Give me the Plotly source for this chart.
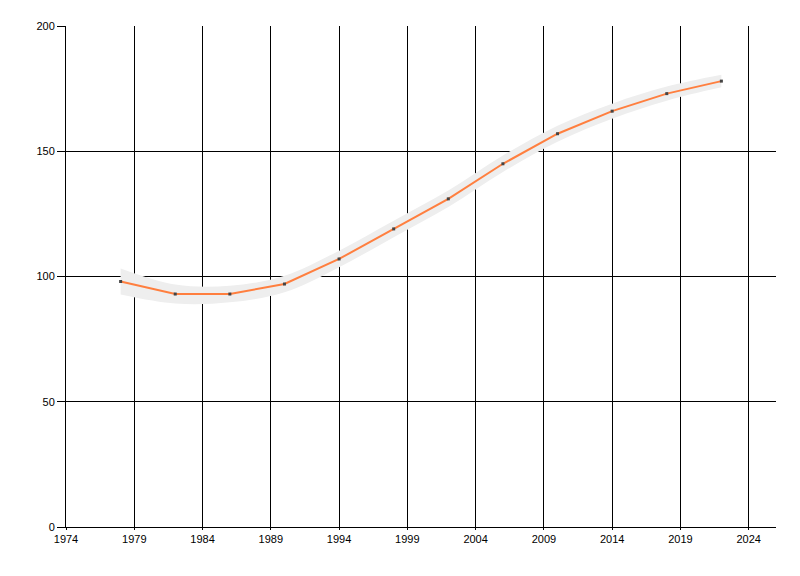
import plotly.graph_objects as go

years = [1978, 1982, 1986, 1990, 1994, 1998, 2002, 2006, 2010, 2014, 2018, 2022]
values = [98, 93, 93, 97, 107, 119, 131, 145, 157, 166, 173, 178]
band_half = [5.2, 3.8, 3.3, 3.3, 3.3, 3.3, 3.3, 3.3, 3.2, 3.0, 2.8, 2.5]

x_ticks = [1974, 1979, 1984, 1989, 1994, 1999, 2004, 2009, 2014, 2019, 2024]
y_ticks = [0, 50, 100, 150, 200]

upper = [v + h for v, h in zip(values, band_half)]
lower = [v - h for v, h in zip(values, band_half)]

fig = go.Figure()
fig.add_trace(go.Scatter(x=years, y=lower, mode="lines", line=dict(width=0, shape="spline"),
                         hoverinfo="skip", showlegend=False))
fig.add_trace(go.Scatter(x=years, y=upper, mode="lines", line=dict(width=0, shape="spline"),
                         fill="tonexty", fillcolor="#EEEEEE", hoverinfo="skip", showlegend=False))
fig.add_trace(go.Scatter(x=years, y=values, mode="lines+markers",
                         line=dict(color="#FF7F3F", width=2),
                         marker=dict(color="#444444", size=3, symbol="square"),
                         showlegend=False))

font = dict(family="Liberation Sans, Arial, sans-serif", size=11, color="#000000")
fig.update_layout(
    width=792, height=568,
    margin=dict(l=58, r=24, t=18, b=49, autoexpand=False),
    paper_bgcolor="white", plot_bgcolor="white",
    font=font,
    showlegend=False,
)
fig.update_xaxes(range=[1974, 2026], tickvals=x_ticks, ticktext=[str(t) for t in x_ticks],
                 showgrid=True, gridcolor="#000000", gridwidth=1,
                 showline=True, linecolor="#000000", linewidth=1,
                 ticks="outside", ticklen=2, tickcolor="#000000", zeroline=False, layer="below traces")
fig.update_yaxes(range=[0, 200], tickvals=y_ticks, ticktext=[str(t) for t in y_ticks],
                 showgrid=True, gridcolor="#000000", gridwidth=1,
                 showline=True, linecolor="#000000", linewidth=1,
                 ticks="outside", ticklen=8, tickcolor="#000000", zeroline=False, layer="below traces")

fig.write_html("out.html")
